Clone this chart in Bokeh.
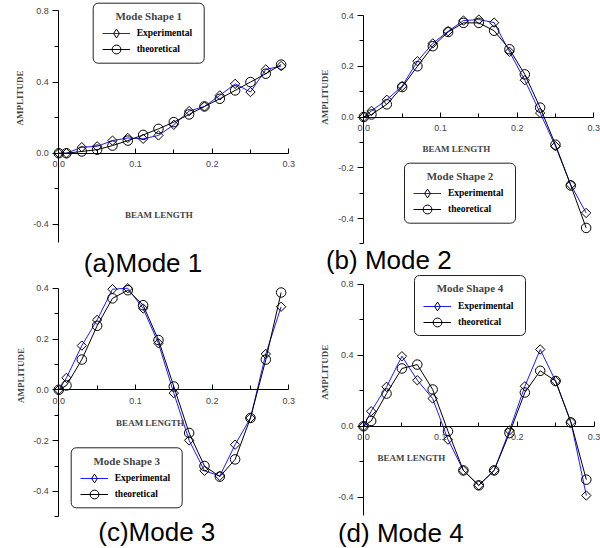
import math
from bokeh.plotting import figure
from bokeh.models import (Range1d, LinearAxis, FixedTicker, NumeralTickFormatter,
                          Label, BoxAnnotation, Legend, LegendItem, ColumnDataSource)
from bokeh.layouts import column, row
from bokeh.embed import file_html
from bokeh.resources import INLINE

# ---------------- data ----------------
beam_length = [0.00, 0.01, 0.03, 0.05, 0.07, 0.09, 0.11, 0.13, 0.15, 0.17, 0.19, 0.21, 0.23, 0.25, 0.27, 0.29]

mode1_experimental = [0.000, 0.000, 0.034, 0.039, 0.071, 0.086, 0.081, 0.100, 0.160, 0.237, 0.263, 0.325, 0.390, 0.344, 0.471, 0.490]
mode1_theoretical = [0.000, 0.000, 0.010, 0.020, 0.043, 0.071, 0.103, 0.137, 0.175, 0.218, 0.263, 0.306, 0.353, 0.400, 0.447, 0.498]

mode2_experimental = [0.000, 0.024, 0.068, 0.122, 0.220, 0.290, 0.338, 0.380, 0.384, 0.372, 0.257, 0.145, 0.016, -0.115, -0.267, -0.378]
mode2_theoretical = [0.000, 0.010, 0.050, 0.118, 0.200, 0.279, 0.335, 0.371, 0.371, 0.340, 0.267, 0.168, 0.037, -0.109, -0.270, -0.437]

mode3_experimental = [0.000, 0.047, 0.174, 0.275, 0.396, 0.400, 0.320, 0.183, -0.013, -0.199, -0.319, -0.339, -0.216, -0.111, 0.141, 0.327]
mode3_theoretical = [0.000, 0.017, 0.119, 0.252, 0.360, 0.392, 0.333, 0.196, 0.013, -0.170, -0.300, -0.342, -0.274, -0.111, 0.119, 0.383]

mode4_experimental = [0.000, 0.085, 0.222, 0.394, 0.259, 0.156, -0.075, -0.248, -0.332, -0.248, -0.023, 0.225, 0.432, 0.254, 0.024, -0.389]
mode4_theoretical = [0.000, 0.030, 0.184, 0.325, 0.347, 0.207, -0.028, -0.248, -0.332, -0.248, -0.038, 0.190, 0.312, 0.255, 0.021, -0.300]

x_ticks = [0.0, 0.1, 0.2, 0.3]
x_minor_ticks = [0.05, 0.15, 0.25]
y_ticks_wide = [-0.4, 0.0, 0.4, 0.8]
y_minor_wide = [-0.2, 0.2, 0.6]
y_ticks_narrow = [-0.4, -0.2, 0.0, 0.2, 0.4]
y_minor_narrow = [-0.5, -0.3, -0.1, 0.1, 0.3]

legend_titles = ["Mode Shape 1", "Mode Shape 2", "Mode Shape 3", "Mode Shape 4"]
captions = ["(a)Mode 1", "(b) Mode 2", "(c)Mode 3", "(d) Mode 4"]
series_labels = ["Experimental", "theoretical"]
x_title = "BEAM LENGTH"
y_title = "AMPLITUDE"

# ---------------- layout (pixel positions inside each figure) ----------------
panels = [
    dict(w=300, h=278, x0=58.3, x1=288.3, ytop=10.4, ybot=241.7, ylim=(-0.5, 0.8),
         ticks=(y_ticks_wide, y_minor_wide), leg=(92.7, 2.7), xlab=(158.3, 214.0),
         ylab=(19.7, 97.5), cap=(142.5, 271.5),
         exp=mode1_experimental, theo=mode1_theoretical),
    dict(w=300, h=274, x0=63.3, x1=293.3, ytop=15.0, ybot=243.4, ylim=(-0.5, 0.4),
         ticks=(y_ticks_narrow, y_minor_narrow), leg=(104.0, 162.7), xlab=(155.8, 148.0),
         ylab=(24.5, 96.7), cap=(88.3, 268.3),
         exp=mode2_experimental, theo=mode2_theoretical),
    dict(w=300, h=270, x0=58.3, x1=288.3, ytop=9.7, ybot=238.3, ylim=(-0.5, 0.4),
         ticks=(y_ticks_narrow, y_minor_narrow), leg=(70.7, 169.3), xlab=(149.5, 144.3),
         ylab=(20.3, 97.0), cap=(156.3, 263.0),
         exp=mode3_experimental, theo=mode3_theoretical),
    dict(w=300, h=274, x0=63.0, x1=293.5, ytop=9.5, ybot=240.75, ylim=(-0.5, 0.8),
         ticks=(y_ticks_wide, y_minor_wide), leg=(114.0, 1.0), xlab=(110.8, 183.3),
         ylab=(24.0, 97.7), cap=(100.3, 267.5),
         exp=mode4_experimental, theo=mode4_theoretical),
]

BLUE = "#1c1cff"
SERIF = "Liberation Serif"
SANS = "Liberation Sans"


def make_legend(item, x, y):
    return Legend(items=[item], location=(x, y), orientation="vertical",
                  glyph_width=28, glyph_height=22, label_height=22, label_width=40,
                  label_standoff=7, spacing=0, padding=0, margin=0,
                  border_line_color=None, background_fill_alpha=0,
                  label_text_font=SERIF, label_text_font_style="bold",
                  label_text_font_size="9.5px", label_text_color="black")


def build(idx, cfg):
    W, H = cfg["w"], cfg["h"]
    x0p, x1p, ytp, ybp = cfg["x0"], cfg["x1"], cfg["ytop"], cfg["ybot"]
    ylo, yhi = cfg["ylim"]
    sx = (x1p - x0p) / 0.3
    sy = (ybp - ytp) / (yhi - ylo)
    # the frame covers the whole figure, so nothing outside it is clipped
    xr = Range1d(-x0p / sx, (W - x0p) / sx)
    yr = Range1d(yhi - (H - ytp) / sy, yhi + ytp / sy)

    p = figure(width=W, height=H, x_range=xr, y_range=yr, title=None,
               toolbar_location=None, output_backend="svg",
               x_axis_location=None, y_axis_location=None,
               min_border_left=0, min_border_right=0,
               min_border_top=0, min_border_bottom=0)
    p.grid.visible = False
    p.outline_line_color = None
    p.background_fill_color = "white"
    p.border_fill_color = "white"

    xa = LinearAxis(fixed_location=0, bounds=(0, 0.3),
                    ticker=FixedTicker(ticks=x_ticks, minor_ticks=x_minor_ticks),
                    formatter=NumeralTickFormatter(format="0.0"))
    xa.major_tick_in = 5
    xa.major_tick_out = 0
    xa.minor_tick_in = 4
    xa.minor_tick_out = 0
    xa.major_label_standoff = 8
    ya = LinearAxis(fixed_location=0, bounds=(ylo, yhi),
                    ticker=FixedTicker(ticks=cfg["ticks"][0], minor_ticks=cfg["ticks"][1]),
                    formatter=NumeralTickFormatter(format="0.0"))
    ya.major_tick_in = 0
    ya.major_tick_out = 6
    ya.minor_tick_in = 0
    ya.minor_tick_out = 4
    ya.major_label_standoff = 4
    for ax in (xa, ya):
        ax.axis_line_color = "black"
        ax.major_tick_line_color = "black"
        ax.minor_tick_line_color = "black"
        ax.major_label_text_font = SANS
        ax.major_label_text_font_size = "9px"
        ax.major_label_text_color = "#444444"
    p.add_layout(xa, "below")
    p.add_layout(ya, "left")

    src = ColumnDataSource(dict(x=beam_length, e=cfg["exp"], t=cfg["theo"]))
    le = p.line("x", "e", source=src, line_color=BLUE, line_width=1)
    p.scatter("x", "e", source=src, marker="square", angle=math.pi / 4, size=6.6,
              line_color="black", line_width=1, fill_color=None)
    lt = p.line("x", "t", source=src, line_color="black", line_width=1)
    st = p.scatter("x", "t", source=src, marker="circle", size=9.5,
                   line_color="black", line_width=1, fill_color=None)
    # hidden diamond renderer of the same series, used only for the legend symbol
    proxy = p.scatter("x", "e", source=src, marker="diamond", size=9,
                      line_color="black", line_width=1, fill_color=None, visible=False)

    def scr(fx, fy):
        return fx, H - fy

    # legend box
    bx, by = cfg["leg"]
    bw, bh = 111, 60
    l, t = scr(bx, by)
    r, b = scr(bx + bw, by + bh)
    box = BoxAnnotation(left=l, right=r, top=t, bottom=b,
                        left_units="screen", right_units="screen",
                        top_units="screen", bottom_units="screen",
                        fill_color="white", fill_alpha=1.0,
                        line_color="#222222", line_width=1, line_alpha=1.0,
                        border_radius=5)
    p.add_layout(box)
    tx, ty = scr(bx + 55.5, by + 16.6 - 3.8)
    p.add_layout(Label(x=tx, y=ty, x_units="screen", y_units="screen",
                       text=legend_titles[idx], text_align="center",
                       text_baseline="middle", text_font=SERIF,
                       text_font_style="bold", text_font_size="11px"))
    ax1, ay1 = scr(bx + 9, by + 30.6 + 11)
    ax2, ay2 = scr(bx + 9, by + 46.6 + 11)
    p.add_layout(make_legend(LegendItem(label=series_labels[0], renderers=[le, proxy]), ax1, ay1))
    p.add_layout(make_legend(LegendItem(label=series_labels[1], renderers=[lt, st]), ax2, ay2))

    # axis titles
    xx, xy = scr(*cfg["xlab"])
    p.add_layout(Label(x=xx, y=xy, x_units="screen", y_units="screen", text=x_title,
                       text_align="center", text_baseline="middle", text_font=SERIF,
                       text_font_style="bold", text_font_size="9px"))
    yx, yy = scr(*cfg["ylab"])
    p.add_layout(Label(x=yx, y=yy, x_units="screen", y_units="screen", text=y_title,
                       angle=math.pi / 2, text_align="center", text_baseline="middle",
                       text_font=SERIF, text_font_style="bold", text_font_size="9px"))
    # caption (positioned by its middle: baseline minus ~0.35 em)
    cxp, cyp = cfg["cap"]
    cx, cy = scr(cxp, cyp - 0.35 * 26)
    p.add_layout(Label(x=cx, y=cy, x_units="screen", y_units="screen", text=captions[idx],
                       text_align="center", text_baseline="middle", text_font=SANS,
                       text_font_size="26px", text_color="black"))
    return p


figs = [build(i, c) for i, c in enumerate(panels)]
layout = row(column(figs[0], figs[2], spacing=0), column(figs[1], figs[3], spacing=0), spacing=0)

open("out.html", "w").write(file_html(layout, INLINE))
